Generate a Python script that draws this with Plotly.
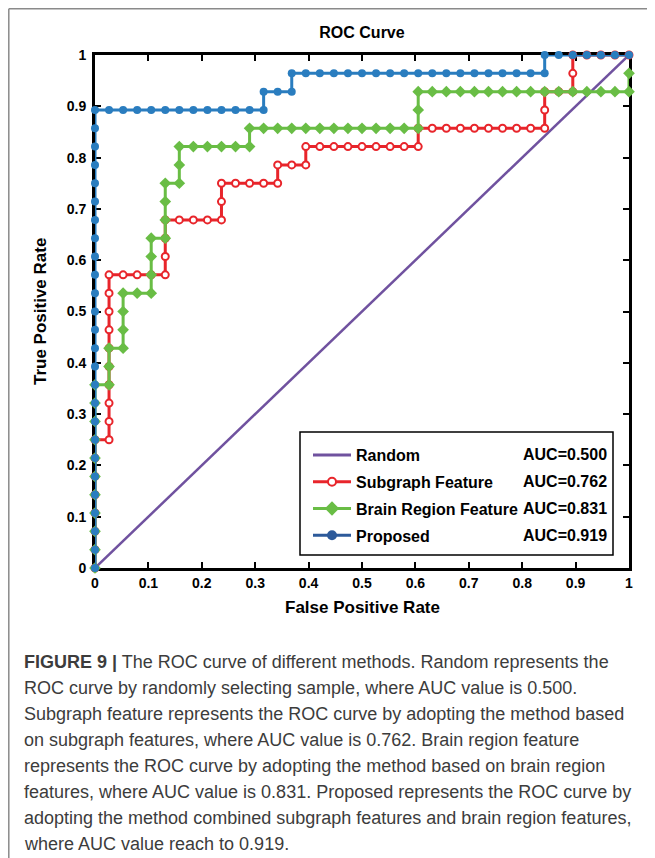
import plotly.graph_objects as go

# ---------------- data (counts: 38 negatives, 28 positives) ----------------
N_NEG = 38
N_POS = 28

PROPOSED_FP = [0, 0, 0, 0, 0, 0, 0, 0, 0, 0, 0, 0, 0, 0, 0, 0, 0, 0, 0, 0, 0, 0, 0, 0, 0, 0,
               1, 2, 3, 4, 5, 6, 7, 8, 9, 10, 11, 12,
               12, 13, 14,
               14, 15, 16, 17, 18, 19, 20, 21, 22, 23, 24, 25, 26, 27, 28, 29, 30, 31, 32,
               32, 33, 34, 35, 36, 37, 38]
PROPOSED_TP = [0, 1, 2, 3, 4, 5, 6, 7, 8, 9, 10, 11, 12, 13, 14, 15, 16, 17, 18, 19, 20, 21, 22, 23, 24, 25,
               25, 25, 25, 25, 25, 25, 25, 25, 25, 25, 25, 25,
               26, 26, 26,
               27, 27, 27, 27, 27, 27, 27, 27, 27, 27, 27, 27, 27, 27, 27, 27, 27, 27, 27,
               28, 28, 28, 28, 28, 28, 28]

SUBGRAPH_FP = [0, 0, 0, 0, 0, 0, 0, 0,
               1, 1, 1, 1, 1, 1, 1, 1, 1, 1,
               2, 3, 4, 5,
               5, 5, 5,
               6, 7, 8, 9,
               9, 9,
               10, 11, 12, 13,
               13, 14, 15,
               15, 16, 17, 18, 19, 20, 21, 22, 23,
               23, 24, 25, 26, 27, 28, 29, 30, 31, 32,
               32, 32, 33, 34,
               34, 34, 35, 36, 37, 38]
SUBGRAPH_TP = [0, 1, 2, 3, 4, 5, 6, 7,
               7, 8, 9, 10, 11, 12, 13, 14, 15, 16,
               16, 16, 16, 16,
               17, 18, 19,
               19, 19, 19, 19,
               20, 21,
               21, 21, 21, 21,
               22, 22, 22,
               23, 23, 23, 23, 23, 23, 23, 23, 23,
               24, 24, 24, 24, 24, 24, 24, 24, 24, 24,
               25, 26, 26, 26,
               27, 28, 28, 28, 28, 28]

BRAIN_FP = [0, 0, 0, 0, 0, 0, 0, 0, 0, 0, 0,
            1, 1, 1,
            2, 2, 2, 2,
            3, 4,
            4, 4, 4,
            5, 5, 5, 5,
            6, 6, 6,
            7, 8, 9, 10, 11,
            11, 12, 13, 14, 15, 16, 17, 18, 19, 20, 21, 22, 23,
            23, 23,
            24, 25, 26, 27, 28, 29, 30, 31, 32, 33, 34, 35, 36, 37, 38,
            38]
BRAIN_TP = [0, 1, 2, 3, 4, 5, 6, 7, 8, 9, 10,
            10, 11, 12,
            12, 13, 14, 15,
            15, 15,
            16, 17, 18,
            18, 19, 20, 21,
            21, 22, 23,
            23, 23, 23, 23, 23,
            24, 24, 24, 24, 24, 24, 24, 24, 24, 24, 24, 24, 24,
            25, 26,
            26, 26, 26, 26, 26, 26, 26, 26, 26, 26, 26, 26, 26, 26, 26,
            27]

RANDOM_X = [0, 1]
RANDOM_Y = [0, 1]

SERIES_NAMES = ["Random", "Subgraph Feature", "Brain Region Feature", "Proposed"]
AUC_LABELS = ["AUC=0.500", "AUC=0.762", "AUC=0.831", "AUC=0.919"]
TICKS = [0, 0.1, 0.2, 0.3, 0.4, 0.5, 0.6, 0.7, 0.8, 0.9, 1]

CAPTION_LINES = [
    "<b>FIGURE 9 |</b> The ROC curve of different methods. Random represents the",
    "ROC curve by randomly selecting sample, where AUC value is 0.500.",
    "Subgraph feature represents the ROC curve by adopting the method based",
    "on subgraph features, where AUC value is 0.762. Brain region feature",
    "represents the ROC curve by adopting the method based on brain region",
    "features, where AUC value is 0.831. Proposed represents the ROC curve by",
    "adopting the method combined subgraph features and brain region features,",
    "where AUC value reach to 0.919.",
]

# ---------------- style ----------------
OFF = 8                      # browser body margin
W, H = 655 - OFF, 858 - OFF  # figure size
L, R, T, B = 95, 629, 55, 568  # plot area in page pixels
FONT = "Liberation Sans, Arial, sans-serif"
CAP_FONT = "Liberation Sans, Arial, sans-serif"
C_PURPLE = "#70529f"
C_RED = "#e8252b"
C_GREEN = "#69bd45"
C_BLUE = "#2a7dbf"
C_NAVY = "#2d5a9a"


def pxx(px):
    return (px - L) / (R - L)


def pxy(py):
    return (B - py) / (B - T)


def rate(counts, total):
    return [c / total for c in counts]


fig = go.Figure()

fig.add_trace(go.Scatter(x=RANDOM_X, y=RANDOM_Y, mode="lines", showlegend=False,
                         line=dict(color=C_PURPLE, width=2.5), cliponaxis=False))
fig.add_trace(go.Scatter(x=rate(SUBGRAPH_FP, N_NEG), y=rate(SUBGRAPH_TP, N_POS),
                         mode="lines+markers", showlegend=False, cliponaxis=False,
                         line=dict(color=C_RED, width=3),
                         marker=dict(symbol="circle", size=7, color="white",
                                     line=dict(color=C_RED, width=2))))
fig.add_trace(go.Scatter(x=rate(BRAIN_FP, N_NEG), y=rate(BRAIN_TP, N_POS),
                         mode="lines+markers", showlegend=False, cliponaxis=False,
                         line=dict(color=C_GREEN, width=3),
                         marker=dict(symbol="diamond", size=9, color=C_GREEN)))
fig.add_trace(go.Scatter(x=rate(PROPOSED_FP, N_NEG), y=rate(PROPOSED_TP, N_POS),
                         mode="lines+markers", showlegend=False, cliponaxis=False,
                         line=dict(color=C_BLUE, width=3),
                         marker=dict(symbol="circle", size=8, color=C_BLUE)))

# legend-only entries
legend_styles = [
    dict(mode="lines", line=dict(color=C_PURPLE, width=3)),
    dict(mode="lines+markers", line=dict(color=C_RED, width=3),
         marker=dict(symbol="circle", size=8, color="white", line=dict(color=C_RED, width=2))),
    dict(mode="lines+markers", line=dict(color=C_GREEN, width=3),
         marker=dict(symbol="diamond", size=11, color=C_GREEN)),
    dict(mode="lines+markers", line=dict(color=C_NAVY, width=3),
         marker=dict(symbol="circle", size=10, color=C_NAVY)),
]
for i, (name, st) in enumerate(zip(SERIES_NAMES, legend_styles)):
    fig.add_trace(go.Scatter(x=[None], y=[None], name=name, legendgroup=f"g{i}",
                             showlegend=True, **st))

axis_common = dict(
    range=[0, 1], tickvals=TICKS, ticktext=[f"{t:g}" for t in TICKS],
    showgrid=False, zeroline=False, showline=True, linecolor="black", linewidth=3,
    mirror="allticks", ticks="inside", ticklen=6, tickwidth=2, tickcolor="black",
    tickfont=dict(family=FONT, size=14, color="black", weight="bold"),
    layer="below traces", fixedrange=True,
)

annotations = []
# axis titles
annotations.append(dict(text="False Positive Rate", x=0.5, y=pxy(607), xref="paper", yref="paper",
                        showarrow=False, xanchor="center", yanchor="middle",
                        font=dict(family=FONT, size=17, color="black", weight="bold")))
annotations.append(dict(text="True Positive Rate", x=pxx(40), y=pxy(312), xref="paper", yref="paper",
                        showarrow=False, xanchor="center", yanchor="middle", textangle=-90,
                        font=dict(family=FONT, size=17, color="black", weight="bold")))
# AUC values in legend box
for i, lab in enumerate(AUC_LABELS):
    annotations.append(dict(text=lab, x=pxx(609), y=pxy(454 + i * 27.3), xref="paper", yref="paper",
                            showarrow=False, xanchor="right", yanchor="middle",
                            font=dict(family=FONT, size=16, color="black", weight="bold")))
# caption
for i, line in enumerate(CAPTION_LINES):
    annotations.append(dict(text=line, x=pxx(22), y=pxy(662 + i * 26), xref="paper", yref="paper",
                            showarrow=False, xanchor="left", yanchor="middle",
                            font=dict(family=CAP_FONT, size=18, color="#3c3c3c")))

shapes = [
    # legend box
    dict(type="rect", xref="paper", yref="paper", x0=pxx(300), x1=pxx(613), y0=pxy(555), y1=pxy(432),
         line=dict(color="black", width=1.5), fillcolor="white", layer="above"),
    # page frame
    dict(type="line", xref="paper", yref="paper", x0=pxx(8.8), x1=pxx(8.8), y0=pxy(8.8), y1=pxy(870),
         line=dict(color="#8a8a8a", width=1.5)),
    dict(type="line", xref="paper", yref="paper", x0=pxx(8.8), x1=pxx(670), y0=pxy(8.8), y1=pxy(8.8),
         line=dict(color="#8a8a8a", width=1.5)),
]

fig.update_layout(
    width=W, height=H,
    margin=dict(l=L - OFF, r=W - (R - OFF), t=T - OFF, b=H - (B - OFF)),
    paper_bgcolor="white", plot_bgcolor="white",
    title=dict(text="ROC Curve", x=0.5, xref="paper", y=1 - (32 - OFF) / H, yref="container",
               xanchor="center", yanchor="middle",
               font=dict(family=FONT, size=16, color="black", weight="bold")),
    xaxis=axis_common, yaxis=dict(axis_common, ticklabelstandoff=3),
    showlegend=True,
    legend=dict(x=pxx(308), y=pxy(438), xanchor="left", yanchor="top", xref="paper", yref="paper",
                bgcolor="rgba(0,0,0,0)", borderwidth=0, itemwidth=38,
                traceorder="grouped", tracegroupgap=3, itemclick=False, itemdoubleclick=False,
                font=dict(family=FONT, size=16, color="black", weight="bold")),
    annotations=annotations, shapes=shapes,
)

fig.write_html("out.html")
